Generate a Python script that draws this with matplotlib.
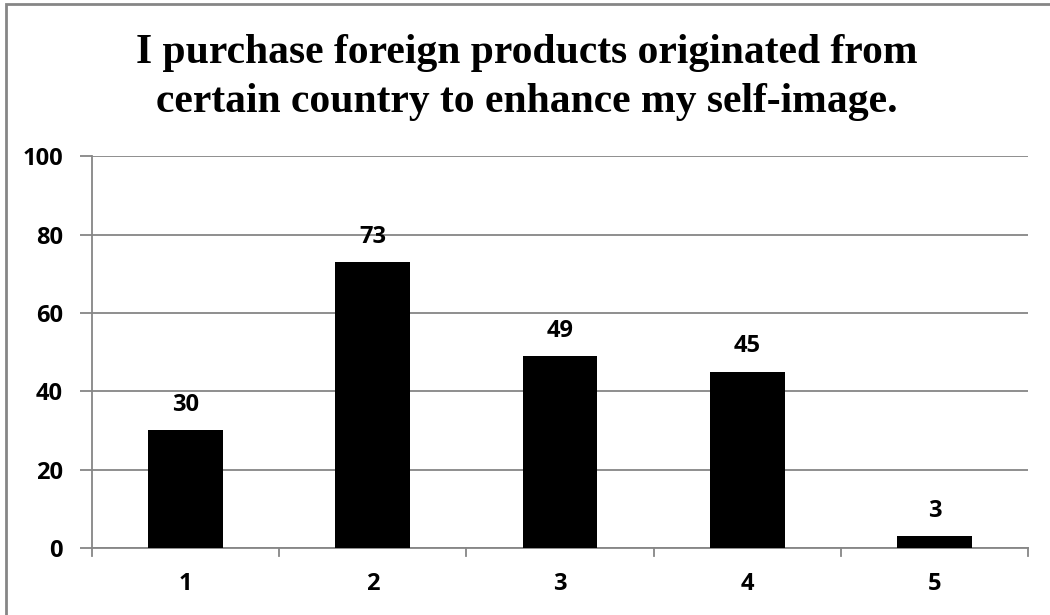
import numpy as np
import matplotlib.pyplot as plt
from matplotlib.patches import Rectangle

# Datos
categorias = ['1', '2', '3', '4', '5']
valores = [30, 73, 49, 45, 3]
yticks = [0, 20, 40, 60, 80, 100]
titulo = ['I purchase foreign products originated from',
          'certain country to enhance my self-image.']

gris = '#868686'
fuente = dict(fontsize=17, fontweight='bold', family='Open Sans')
fig = plt.figure(figsize=(10.5, 6.15), dpi=100)
ax = fig.add_axes([0.0876, 0.109, 0.8914, 0.637])

x = np.arange(len(categorias))
ax.bar(x, valores, width=0.4, color='black', zorder=3)
for xi, v in zip(x, valores):
    ax.annotate(str(v), (xi, v), xytext=(0, 14), textcoords='offset points',
                ha='center', va='baseline', **fuente)

ax.set_xlim(-0.5, len(categorias) - 0.5)
ax.set_ylim(0, 100)
ax.set_yticks(yticks)
ax.set_yticklabels([str(t) for t in yticks], **fuente)
ax.set_xticks(x)
ax.set_xticklabels(categorias, **fuente)
ax.tick_params(axis='x', length=0, pad=17)
ax.tick_params(axis='y', length=9, color=gris, width=1.3, pad=12)
# marcas entre categorias
for b in np.arange(-0.5, len(categorias), 1.0):
    ax.plot([b, b], [0, -0.02], transform=ax.get_xaxis_transform(), color=gris,
            lw=1.3, clip_on=False)
ax.grid(axis='y', color=gris, lw=1.3, zorder=0)
for s in ['top', 'right']:
    ax.spines[s].set_visible(False)
for s in ['left', 'bottom']:
    ax.spines[s].set_color(gris)
    ax.spines[s].set_linewidth(1.3)

for linea, yb in zip(titulo, [0.8976, 0.8179]):
    fig.text(0.502, yb, linea, ha='center', va='baseline', fontsize=30,
             fontweight='bold', family='Liberation Serif')

# borde del area del grafico
fig.patches.append(Rectangle((0.0057, -0.1), 1.2, 1.1 - 0.0065, transform=fig.transFigure,
                             fill=False, edgecolor=gris, lw=2))

plt.savefig('out.png')
